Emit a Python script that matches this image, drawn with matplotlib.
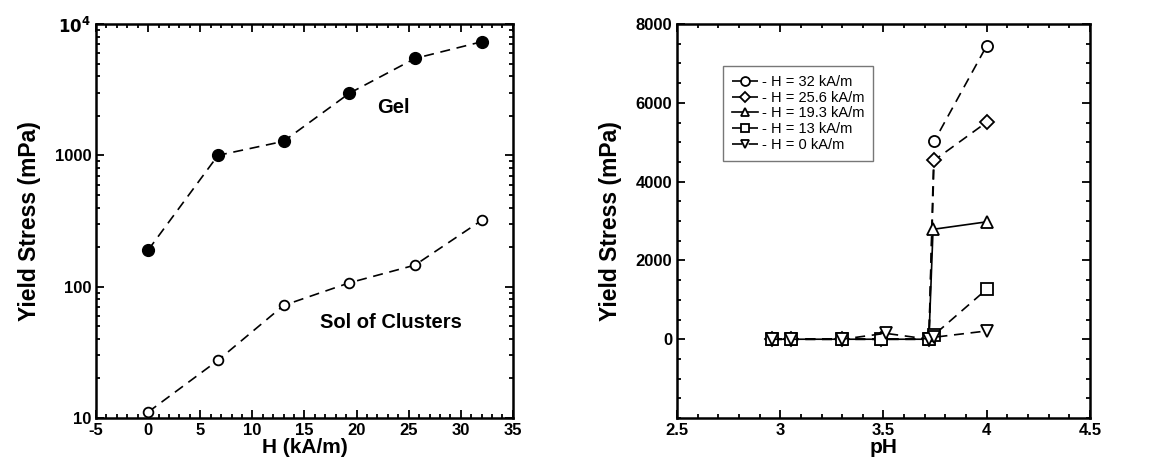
import matplotlib.pyplot as plt
from matplotlib.ticker import MultipleLocator, FixedLocator, LogLocator, NullFormatter, FuncFormatter

plt.rcParams['font.family'] = ['Liberation Sans', 'DejaVu Sans']
plt.rcParams['font.weight'] = 'bold'
plt.rcParams['axes.unicode_minus'] = False

# left panel: yield stress vs field
h_field = [0, 6.7, 13, 19.3, 25.6, 32]
gel = [190, 1000, 1280, 2970, 5470, 7330]
sol = [11.1, 27.5, 72, 107, 146, 320]

# right panel: yield stress vs pH
ph_32 = [2.96, 3.05, 3.30, 3.49, 3.72, 3.745, 4.0]
ys_32 = [0, 0, 0, 0, 0, 5020, 7450]
ph_256 = [2.96, 3.05, 3.30, 3.49, 3.72, 3.745, 4.0]
ys_256 = [0, 0, 0, 0, 0, 4540, 5510]
ph_193 = [2.96, 3.05, 3.30, 3.49, 3.72, 3.74, 4.0]
ys_193 = [0, 0, 0, 0, 0, 2790, 2980]
ph_13 = [2.96, 3.05, 3.30, 3.49, 3.72, 3.745, 4.0]
ys_13 = [0, 0, 0, 0, 0, 110, 1270]
ph_0 = [2.96, 3.05, 3.30, 3.51, 3.72, 3.745, 4.0]
ys_0 = [0, 0, 0, 150, 0, 50, 210]

fig = plt.figure(figsize=(11.5, 4.69), dpi=100)
ax1 = fig.add_axes([0.0835, 0.1087, 0.3625, 0.84])
ax2 = fig.add_axes([0.5887, 0.1087, 0.3591, 0.84])

dash = (0, (6, 4))

ax1.plot(h_field, gel, color='black', linestyle=dash, lw=1.2, marker='o', ms=8.5,
         mfc='black', mec='black')
ax1.plot(h_field, sol, color='black', linestyle=dash, lw=1.2, marker='o', ms=7,
         mfc='white', mec='black', mew=1.3)
ax1.set_yscale('log')
ax1.set_xlim(-5, 35)
ax1.set_ylim(10, 10000)
ax1.xaxis.set_major_locator(MultipleLocator(5))
ax1.xaxis.set_minor_locator(MultipleLocator(1))
ax1.yaxis.set_major_locator(FixedLocator([10, 100, 1000, 10000]))
ax1.yaxis.set_major_formatter(FuncFormatter(
    lambda v, p: r'$\mathbf{10^4}$' if v >= 10000 else '%d' % v))
ax1.yaxis.set_minor_locator(LogLocator(base=10, subs=range(2, 10)))
ax1.yaxis.set_minor_formatter(NullFormatter())
ax1.text(23.5, 2300, 'Gel', fontsize=14.5, fontweight='bold', ha='center', va='center')
ax1.text(23.3, 53, 'Sol of Clusters', fontsize=14.5, fontweight='bold', ha='center', va='center')
ax1.set_xlabel('H (kA/m)', fontsize=15, fontweight='bold', labelpad=0)
ax1.set_ylabel('Yield Stress (mPa)', fontsize=16.5, fontweight='bold', labelpad=10)

mk = dict(ms=8, mfc='white', mec='black', mew=1.3, color='black', lw=1.2)
ax2.plot(ph_32, ys_32, linestyle=dash, marker='o', label='- H = 32 kA/m', **mk)
ax2.plot(ph_256, ys_256, linestyle=dash, marker='D', label='- H = 25.6 kA/m',
         **{**mk, 'ms': 7})
ax2.plot(ph_193, ys_193, linestyle='-', marker='^', label='- H = 19.3 kA/m', **mk)
ax2.plot(ph_13, ys_13, linestyle=dash, marker='s', label='- H = 13 kA/m', **mk)
ax2.plot(ph_0, ys_0, linestyle=dash, marker='v', label='- H = 0 kA/m', **mk)
ax2.set_xlim(2.5, 4.5)
ax2.set_ylim(-2000, 8000)
ax2.xaxis.set_major_locator(MultipleLocator(0.5))
ax2.xaxis.set_minor_locator(MultipleLocator(0.1))
ax2.xaxis.set_major_formatter(FuncFormatter(lambda v, p: '%g' % v))
ax2.yaxis.set_major_locator(FixedLocator([0, 2000, 4000, 6000, 8000]))
ax2.yaxis.set_minor_locator(MultipleLocator(500))
ax2.set_xlabel('pH', fontsize=15, fontweight='bold', labelpad=0)
ax2.set_ylabel('Yield Stress (mPa)', fontsize=16.5, fontweight='bold', labelpad=10)
leg = ax2.legend(loc='upper left', bbox_to_anchor=(0.111, 0.893), borderaxespad=0,
                 frameon=True, fancybox=False, shadow=False, handlelength=1.8,
                 handletextpad=0.3, labelspacing=0.12, borderpad=0.6,
                 markerscale=0.8, prop={'weight': 'normal', 'size': 10.5})
leg.get_frame().set_edgecolor('#555555')
leg.get_frame().set_linewidth(1.0)

for ax in (ax1, ax2):
    for s in ax.spines.values():
        s.set_linewidth(1.8)
    ax.tick_params(which='both', direction='in', top=True, right=True,
                   labelsize=12, width=1.3)
    ax.tick_params(which='major', length=6)
    ax.tick_params(which='minor', length=3)
    for lbl in ax.get_xticklabels() + ax.get_yticklabels():
        lbl.set_fontweight('bold')

fig.savefig('out.png', dpi=100)
